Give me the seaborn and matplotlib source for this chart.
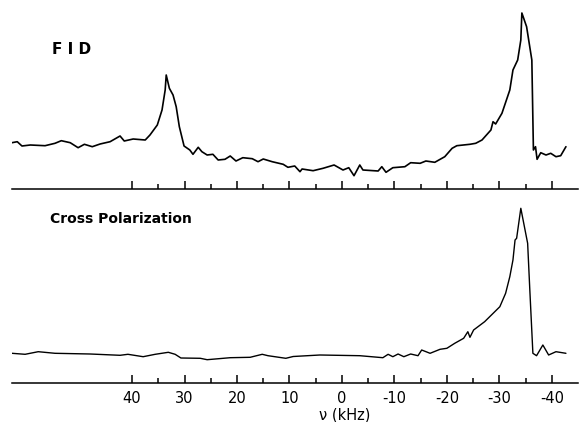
import numpy as np
import pandas as pd
import matplotlib
matplotlib.use("Agg")
import matplotlib.pyplot as plt
import seaborn as sns

# FID spectrum: frequency (kHz) and intensity (arb. units)
fid_freq = [62.9, 61.9, 61.0, 59.4, 56.6, 54.7, 53.5, 51.8, 50.3, 49.1, 47.6, 46.1,
            44.2, 42.3, 41.5, 39.8, 37.5, 36.6, 35.2, 34.3, 33.7, 33.5, 32.9, 32.2,
            31.6, 31.0, 30.1, 29.0, 28.4, 27.4, 26.7, 25.7, 24.6, 23.6, 22.3, 21.3,
            20.2, 18.9, 17.1, 16.0, 15.0, 13.3, 11.2, 10.3, 9.0, 8.0, 7.6, 5.5, 3.6,
            1.5, -0.2, -1.3, -2.3, -3.4, -4.0, -6.9, -7.6, -8.4, -9.7, -12.0, -13.1,
            -14.9, -16.0, -17.7, -19.6, -21.0, -21.9, -24.4, -25.5, -26.7, -28.4,
            -28.8, -29.3, -30.5, -32.0, -32.6, -33.5, -34.1, -34.3, -35.2, -35.8,
            -36.2, -36.5, -36.9, -37.2, -37.9, -38.9, -39.8, -40.8, -41.7, -42.7]
fid_int = [46.3, 47.3, 43.0, 44.0, 43.3, 45.7, 48.3, 46.3, 41.3, 44.7, 42.3, 45.0,
           47.3, 53.0, 48.0, 50.0, 49.0, 54.0, 64.0, 79.0, 99.0, 114.0, 100.7, 94.0,
           82.3, 62.3, 43.0, 39.0, 34.7, 41.7, 37.3, 34.0, 34.7, 29.0, 29.7, 33.0,
           28.0, 31.3, 30.3, 27.3, 30.0, 27.3, 24.7, 21.7, 23.0, 17.3, 20.0, 18.3, 20.7,
           24.0, 19.0, 21.3, 13.3, 24.0, 19.0, 18.0, 22.3, 16.7, 21.3, 22.3, 26.3,
           25.7, 28.0, 26.7, 32.3, 40.7, 43.3, 44.7, 45.7, 49.0, 59.0,
           67.3, 65.0, 75.7, 99.0, 119.0, 129.0, 149.0, 176.0, 162.3, 142.3,
           129.0, 39.0, 42.3, 29.7, 36.3, 34.0, 35.7, 32.3, 33.3, 42.3]

# Cross polarization spectrum
cp_freq = [62.9, 60.4, 57.9, 54.7, 48.0, 42.3, 40.8, 37.9, 35.6, 33.1, 31.8, 30.7,
           27.0, 25.7, 21.3, 17.5, 15.2, 14.1, 10.7, 9.3, 4.2, -3.4, -7.8, -8.8,
           -9.7, -10.7, -11.8, -13.1, -14.5, -15.2, -16.8, -18.7, -20.0, -21.5,
           -23.2, -24.0, -24.4, -25.1, -27.2, -30.1, -31.2, -32.0, -32.6, -33.0,
           -33.3, -34.1, -35.4, -35.8, -36.4, -37.1, -38.3, -39.4, -40.8, -42.7]
cp_int = [29.7, 28.7, 31.3, 29.7, 29.0, 27.7, 28.7, 26.3, 28.7, 30.7, 28.7, 25.0,
          24.7, 23.3, 25.3, 25.7, 28.7, 27.3, 24.7, 26.5, 28.0, 27.3, 25.3, 28.7,
          26.3, 29.0, 26.3, 29.0, 27.3, 33.0, 29.7, 33.7, 34.7, 39.7,
          44.7, 51.3, 45.7, 53.0, 61.3, 76.3, 89.7, 106.3, 123.0, 143.0,
          144.7, 174.7, 139.7, 94.7, 29.7, 27.3, 38.0, 28.0, 31.3, 29.7]

major_ticks = [40, 30, 20, 10, 0, -10, -20, -30, -40]
minor_ticks = [35, 25, 15, 5, -5, -15, -25, -35]
tick_labels = ["40", "30", "20", "10", "0", "-10", "-20", "-30", "-40"]

sns.set_style("white")
plt.rcParams["font.family"] = ["DejaVu Sans"]
plt.rcParams["axes.unicode_minus"] = False

W, H = 579, 422
fig = plt.figure(figsize=(W / 100, H / 100), dpi=100)

def make_axes(line_y):
    # axes whose bottom edge is the baseline drawn in the figure
    ax = fig.add_axes([12 / W, (H - line_y) / H, 566 / W, 184 / H])
    ax.set_xlim(62.9, -45.0)
    ax.set_ylim(0, 184)
    for s in ["top", "left", "right"]:
        ax.spines[s].set_visible(False)
    ax.spines["bottom"].set_linewidth(1.1)
    ax.spines["bottom"].set_color("black")
    ax.set_yticks([])
    ax.set_xticks(major_ticks)
    ax.set_xticks(minor_ticks, minor=True)
    ax.tick_params(axis="x", which="both", bottom=True, top=False)
    ax.tick_params(axis="x", which="major", direction="in", length=6, width=1.1,
                   colors="black", pad=6, labelsize=10.5)
    ax.tick_params(axis="x", which="minor", direction="in", length=3.8, width=1.1,
                   colors="black")
    ax.patch.set_alpha(0)
    return ax

ax1 = make_axes(189)
df1 = pd.DataFrame({"freq": fid_freq, "intensity": fid_int})
sns.lineplot(data=df1, x="freq", y="intensity", ax=ax1, color="black",
             linewidth=1.2, sort=False, estimator=None)
ax1.set_xticklabels([])
ax1.set_xlabel("")
ax1.set_ylabel("")

ax2 = make_axes(383)
df2 = pd.DataFrame({"freq": cp_freq, "intensity": cp_int})
sns.lineplot(data=df2, x="freq", y="intensity", ax=ax2, color="black",
             linewidth=1.0, sort=False, estimator=None)
ax2.set_xticklabels(tick_labels)
ax2.set_ylabel("")
ax2.set_xlabel("\u03bd (kHz)", fontsize=10.5, color="black")
ax2.xaxis.set_label_coords((345 - 12) / 566, -0.135)

fig.text(52 / W, 1 - 49 / H, "F I D", fontsize=11, fontweight="bold",
         va="center", ha="left", color="black")
fig.text(50 / W, 1 - 219 / H, "Cross Polarization", fontsize=10,
         fontweight="semibold", va="center", ha="left", color="black")

fig.savefig("out.png", dpi=100)
